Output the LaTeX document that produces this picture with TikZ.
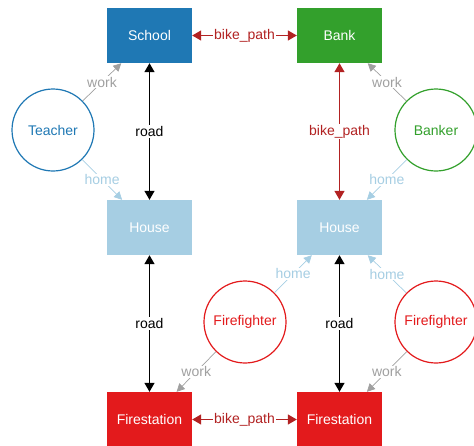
\documentclass[tikz,border=0pt]{standalone}
\usepackage{fontspec}
\setmainfont{Liberation Sans}
\usetikzlibrary{arrows.meta}
\definecolor{cblue}{HTML}{1F78B4}
\definecolor{cgreen}{HTML}{33A02C}
\definecolor{cred}{HTML}{E31A1C}
\definecolor{clight}{HTML}{A6CEE3}
\definecolor{cbike}{HTML}{B22222}
\definecolor{cwork}{HTML}{A0A0A0}
\begin{document}
\begin{tikzpicture}[x=1pt,y=-1pt, font=\fontsize{14}{16}\selectfont,
  place/.style={rectangle, minimum width=85pt, minimum height=55pt, inner sep=0pt, text=white},
  person/.style={circle, draw, fill=white, line width=1.2pt, minimum size=82pt, inner sep=0pt},
  road/.style={draw=black, line width=1.4pt, {Triangle[length=9pt,width=10pt]}-{Triangle[length=9pt,width=10pt]}},
  bike/.style={draw=cbike, line width=1.4pt, {Triangle[length=9pt,width=10pt]}-{Triangle[length=9pt,width=10pt]}},
  work/.style={draw=cwork, line width=0.7pt, -{Triangle[length=8pt,width=8pt]}},
  home/.style={draw=clight, line width=0.7pt, -{Triangle[length=8pt,width=8pt]}},
  lbl/.style={fill=white, inner sep=1pt}
]
\useasboundingbox (0,0) rectangle (474,445);
% places
\node[place, fill=cblue] (school) at (149.5,35.5) {School};
\node[place, fill=cgreen] (bank) at (339.5,35.5) {Bank};
\node[place, fill=clight] (houseL) at (149.5,227.5) {House};
\node[place, fill=clight] (houseR) at (339.5,227.5) {House};
\node[place, fill=cred] (fireL) at (149.5,419.5) {Firestation};
\node[place, fill=cred] (fireR) at (339.5,419.5) {Firestation};
% people
\node[person, draw=cblue, text=cblue] (teacher) at (53,130) {Teacher};
\node[person, draw=cgreen, text=cgreen] (banker) at (436,130) {Banker};
\node[person, draw=cred, text=cred] (ffL) at (245,322) {Firefighter};
\node[person, draw=cred, text=cred] (ffR) at (436,322) {Firefighter};
% roads and bike paths
\draw[road] (school) -- node[lbl, text=black] {road} (houseL);
\draw[road] (houseL) -- node[lbl, text=black] {road} (fireL);
\draw[road] (houseR) -- node[lbl, text=black] {road} (fireR);
\draw[bike] (school) -- node[lbl, text=cbike] {bike\_path} (bank);
\draw[bike] (bank) -- node[lbl, text=cbike] {bike\_path} (houseR);
\draw[bike] (fireL) -- node[lbl, text=cbike] {bike\_path} (fireR);
% work and home
\draw[work] (teacher) -- node[lbl, text=cwork] {work} (school);
\draw[home] (teacher) -- node[lbl, text=clight] {home} (houseL);
\draw[work] (banker) -- node[lbl, text=cwork] {work} (bank);
\draw[home] (banker) -- node[lbl, text=clight] {home} (houseR);
\draw[work] (ffL) -- node[lbl, text=cwork] {work} (fireL);
\draw[home] (ffL) -- node[lbl, text=clight] {home} (houseR);
\draw[work] (ffR) -- node[lbl, text=cwork] {work} (fireR);
\draw[home] (ffR) -- node[lbl, text=clight] {home} (houseR);
\end{tikzpicture}
\end{document}
